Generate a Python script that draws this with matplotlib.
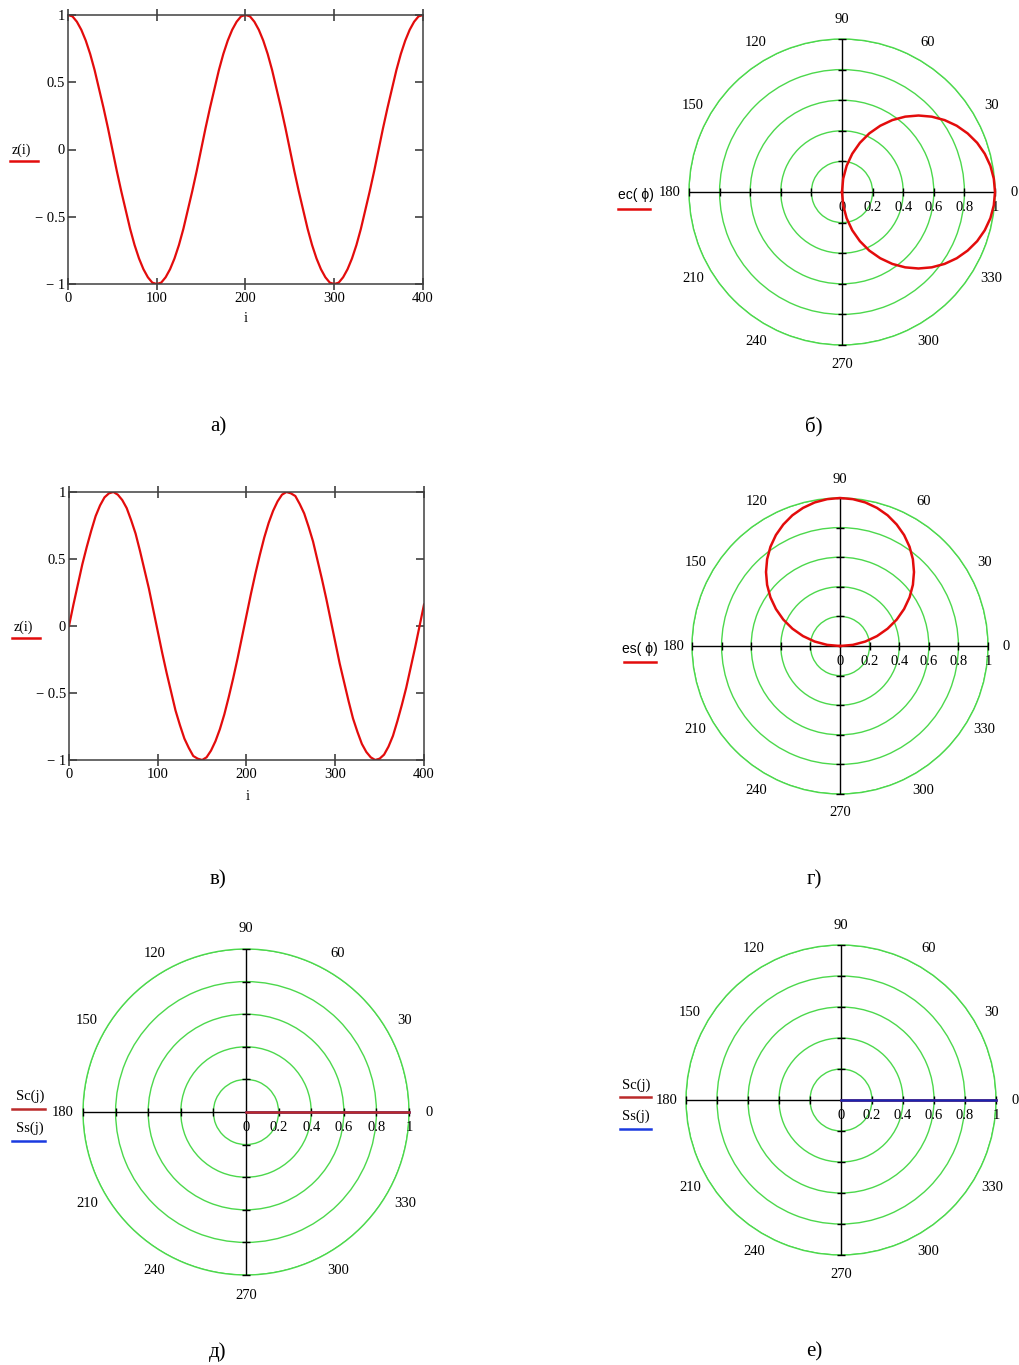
import numpy as np
import matplotlib
matplotlib.use("Agg")
import matplotlib.pyplot as plt
from matplotlib.lines import Line2D

plt.rcParams['font.family'] = ['Liberation Serif', 'DejaVu Serif']

W, H = 1020, 1365

# --- data ---
i_vals = list(range(0, 401, 5))
z_cos = [1, .99, .95, .89, .81, .71, .59, .45, .31, .16, 0, -.16, -.31, -.45, -.59, -.71,
         -.81, -.89, -.95, -.99, -1, -.99, -.95, -.89, -.81, -.71, -.59, -.45, -.31, -.16,
         0, .16, .31, .45, .59, .71, .81, .89, .95, .99, 1, .99, .95, .89, .81, .71, .59,
         .45, .31, .16, 0, -.16, -.31, -.45, -.59, -.71, -.81, -.89, -.95, -.99, -1, -.99,
         -.95, -.89, -.81, -.71, -.59, -.45, -.31, -.16, 0, .16, .31, .45, .59, .71, .81,
         .89, .95, .99, 1]
z_sin = [0, .16, .31, .46, .59, .71, .82, .9, .96, .99, 1, .98, .94, .88, .79, .69, .56,
         .42, .28, .12, -.04, -.2, -.35, -.49, -.63, -.74, -.84, -.91, -.97, -.99, -1, -.98,
         -.93, -.86, -.77, -.66, -.53, -.39, -.24, -.08, .08, .24, .39, .53, .66, .77, .86,
         .93, .98, 1, .99, .97, .91, .84, .74, .63, .49, .35, .2, .04, -.12, -.28, -.42,
         -.56, -.69, -.79, -.88, -.94, -.98, -1, -.99, -.96, -.9, -.82, -.71, -.59, -.46,
         -.31, -.16, 0, .16]

phi_ec = list(range(-90, 91, 5))
ec_vals = [0, .087, .174, .259, .342, .423, .5, .574, .643, .707, .766, .819, .866, .906,
           .94, .966, .985, .996, 1, .996, .985, .966, .94, .906, .866, .819, .766, .707,
           .643, .574, .5, .423, .342, .259, .174, .087, 0]
phi_es = list(range(0, 181, 5))
es_vals = [0, .087, .174, .259, .342, .423, .5, .574, .643, .707, .766, .819, .866, .906,
           .94, .966, .985, .996, 1, .996, .985, .966, .94, .906, .866, .819, .766, .707,
           .643, .574, .5, .423, .342, .259, .174, .087, 0]

j_ang = [0, 0]
Sc_vals = [0, 1]
Ss_vals = [0, 1]

r_ticks = [0, 0.2, 0.4, 0.6, 0.8, 1]
r_labels = ['0', '0.2', '0.4', '0.6', '0.8', '1']
ang_labels = list(range(0, 360, 30))
x_ticks = [0, 100, 200, 300, 400]
y_ticks = [-1, -0.5, 0, 0.5, 1]
y_labels = ['\u2212 1', '\u2212 0.5', '0', '0.5', '1']

RED = '#e30c0c'
GREEN = '#4cd84c'
SC_COL = '#bb2a2a'
SS_COL = '#1a24b0'

fig = plt.figure(figsize=(W / 100, H / 100), dpi=100)


def rect(l, t, r, b):
    return [l / W, 1 - b / H, (r - l) / W, (b - t) / H]


def underline(x0, x1, y, color):
    fig.add_artist(Line2D([x0 / W, x1 / W], [1 - y / H, 1 - y / H], color=color, lw=1.8))


def label(x, y, s, fam=None, size=10):
    kw = {}
    if fam:
        kw['family'] = fam
    fig.text(x / W, 1 - y / H, s, ha='center', va='center', fontsize=size, **kw)


def cart_panel(box, z):
    ax = fig.add_axes(rect(*box))
    ax.plot(i_vals, z, color=RED, lw=1.6)
    ax.set_xlim(0, 400)
    ax.set_ylim(-1, 1)
    ax.set_xticks(x_ticks)
    ax.set_yticks(y_ticks)
    ax.set_yticklabels(y_labels)
    for s in ax.spines.values():
        s.set_color('#404040')
        s.set_linewidth(1.1)
    ax.tick_params(axis='both', labelsize=10.5, color='#303030', width=1.1)
    ax.tick_params(axis='x', direction='inout', length=8, top=True, pad=2)
    ax.tick_params(axis='y', direction='in', length=6, right=True, pad=2)
    return ax


def polar_panel(cx, cy, R, lines):
    ax = fig.add_axes(rect(cx - R, cy - R, cx + R, cy + R), projection='polar')
    ax.set_ylim(0, 1)
    ax.set_xticks([])
    ax.set_yticks(r_ticks[1:])
    ax.set_yticklabels([])
    ax.tick_params(axis='y', length=0)
    ax.xaxis.grid(False)
    ax.yaxis.grid(True, color=GREEN, lw=1.0)
    ax.spines['polar'].set_color(GREEN)
    ax.spines['polar'].set_linewidth(1.0)
    # black cross with ticks
    for a in [0, 90, 180, 270]:
        ax.plot([np.deg2rad(a)] * 2, [0, 1], color='black', lw=1.0, zorder=3)
    for a, m in [(0, '|'), (180, '|'), (90, '_'), (270, '_')]:
        ax.plot([np.deg2rad(a)] * 5, r_ticks[1:], ls='none', marker=m, ms=6,
                mew=1.0, color='black', zorder=3, clip_on=False)
    for r, s in zip(r_ticks, r_labels):
        ax.annotate(s, xy=(0, r), xytext=(0, -11), textcoords='offset points',
                    ha='center', va='center', fontsize=10.5)
    for a in ang_labels:
        ax.text(np.deg2rad(a), 1.125, str(a), ha='center', va='center', fontsize=10.5,
                clip_on=False)
    for th, r, c, zo in lines:
        ax.plot(np.deg2rad(th), r, color=c, lw=1.8, zorder=zo, clip_on=False)
    return ax


# а)
ax1 = cart_panel((68, 15, 423, 284), z_cos)
label(246, 318, 'i', size=10.5)
label(21, 150, 'z(i)', size=10)
underline(10, 38, 161, RED)

# в)
ax3 = cart_panel((69, 492, 424, 760), z_sin)
label(248, 796, 'i', size=10.5)
label(23, 627, 'z(i)', size=10)
underline(12, 40, 638, RED)

# б)
polar_panel(842, 192, 153, [(phi_ec, ec_vals, RED, 4)])
label(636, 195, 'ec( \u03d5)', fam=['Liberation Sans', 'DejaVu Sans'], size=10)
underline(618, 650, 209, RED)

# г)
polar_panel(840, 646, 148, [(phi_es, es_vals, RED, 4)])
label(640, 649, 'es( \u03d5)', fam=['Liberation Sans', 'DejaVu Sans'], size=10)
underline(624, 656, 662, RED)

# д)
polar_panel(246, 1112, 163, [(j_ang, Ss_vals, SS_COL, 4), (j_ang, Sc_vals, SC_COL, 5)])
label(30, 1096, 'Sc(j)', size=10.5)
underline(12, 45, 1109, SC_COL)
label(30, 1128, 'Ss(j)', size=10.5)
underline(12, 45, 1141, '#1a3ae0')

# е)
polar_panel(841, 1100, 155, [(j_ang, Sc_vals, SC_COL, 4), (j_ang, Ss_vals, SS_COL, 5)])
label(636, 1085, 'Sc(j)', size=10.5)
underline(620, 651, 1097, SC_COL)
label(636, 1116, 'Ss(j)', size=10.5)
underline(620, 651, 1129, '#1a3ae0')

# captions
for x, y, s in [(218, 427, 'а)'), (814, 427, 'б)'), (218, 880, 'в)'),
                (814, 880, 'г)'), (218, 1352, 'д)'), (814, 1352, 'е)')]:
    label(x, y, s, size=15)

fig.savefig('out.png', dpi=100)
